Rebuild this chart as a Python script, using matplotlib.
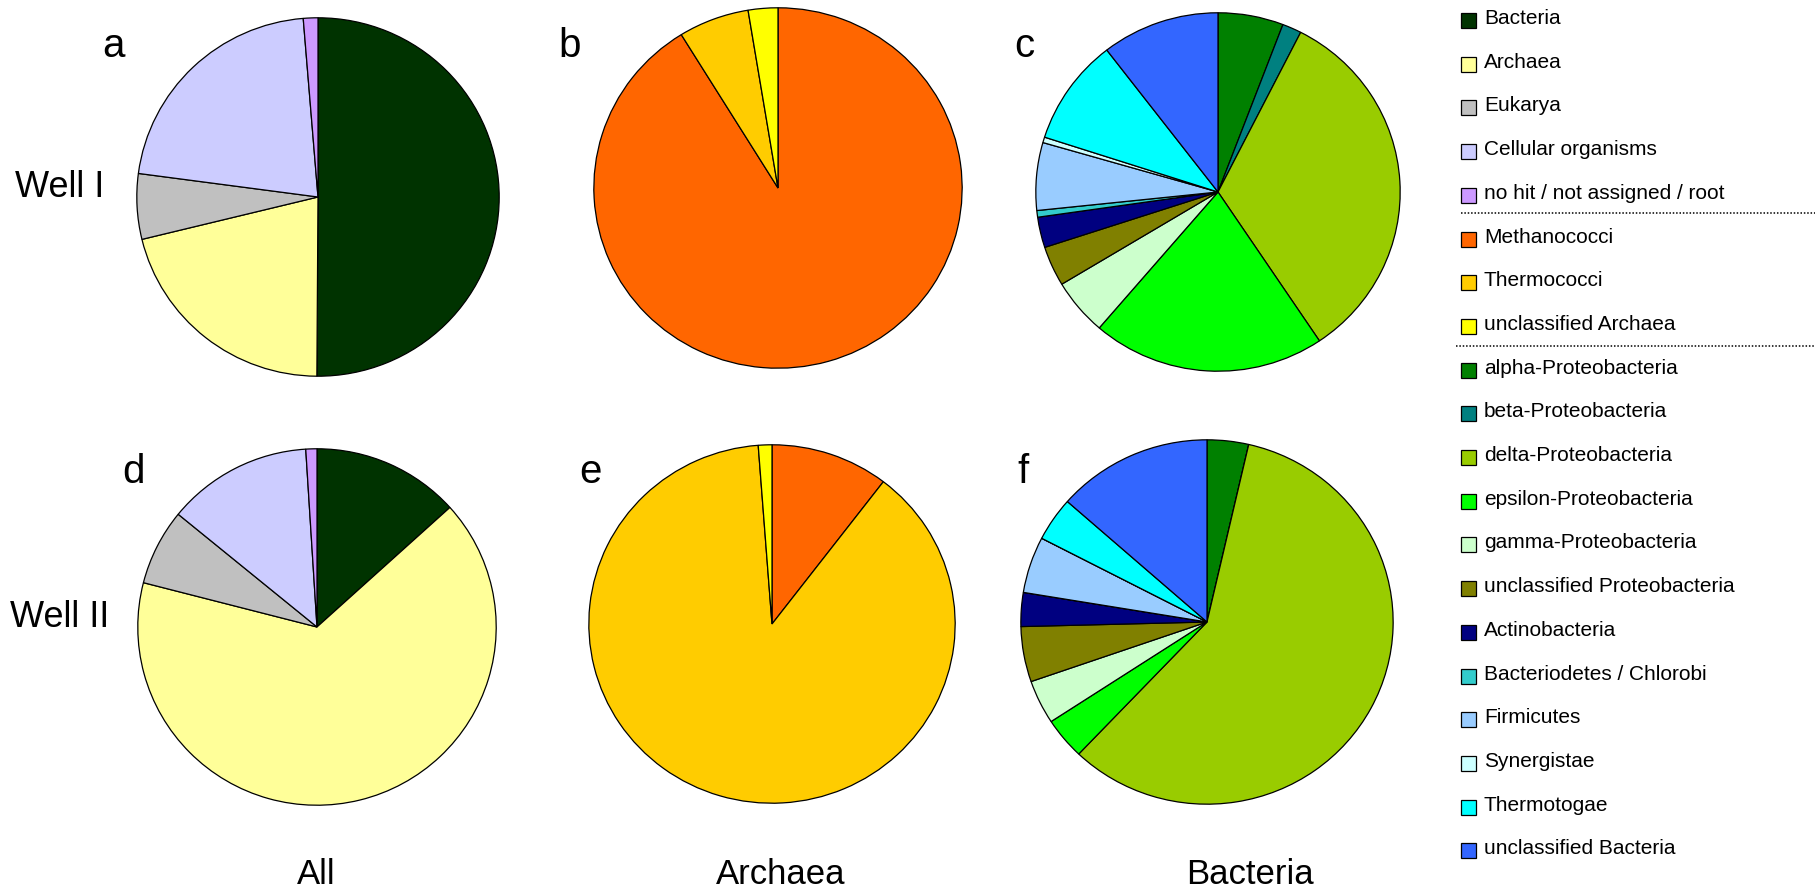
import matplotlib
matplotlib.use("Agg")
import matplotlib.pyplot as plt
from matplotlib.patches import Rectangle

plt.rcParams['font.family'] = ['Liberation Sans', 'DejaVu Sans']

# legend groups
domain_names = ["Bacteria", "Archaea", "Eukarya", "Cellular organisms", "no hit / not assigned / root"]
domain_colors = ["#003300", "#FFFF99", "#C0C0C0", "#CCCCFF", "#CC99FF"]

archaea_names = ["Methanococci", "Thermococci", "unclassified Archaea"]
archaea_colors = ["#FF6600", "#FFCC00", "#FFFF00"]

bacteria_names = ["alpha-Proteobacteria", "beta-Proteobacteria", "delta-Proteobacteria",
                  "epsilon-Proteobacteria", "gamma-Proteobacteria", "unclassified Proteobacteria",
                  "Actinobacteria", "Bacteriodetes / Chlorobi", "Firmicutes", "Synergistae",
                  "Thermotogae", "unclassified Bacteria"]
bacteria_colors = ["#008000", "#008080", "#99CC00", "#00FF00", "#CCFFCC", "#808000",
                   "#000080", "#33CCCC", "#99CCFF", "#CCFFFF", "#00FFFF", "#3366FF"]

# percentages
all_well1 = [50.1, 21.1, 5.9, 21.6, 1.3]
all_well2 = [13.3, 65.7, 6.9, 13.1, 1.0]
arch_well1 = [91.2, 6.2, 2.6]
arch_well2 = [10.4, 88.4, 1.2]
bact_well1 = [5.8, 1.7, 33.1, 20.7, 5.1, 3.6, 2.75, 0.6, 6.1, 0.5, 9.6, 10.45]
bact_well2 = [3.6, 0, 58.5, 3.7, 3.9, 4.9, 3.0, 0, 5.0, 0, 3.9, 13.5]

W, H = 1817, 888
fig = plt.figure(figsize=(W / 100, H / 100), dpi=100)


def pie_axes(cx, cy, rx, ry):
    return fig.add_axes([(cx - rx) / W, 1 - (cy + ry) / H, 2 * rx / W, 2 * ry / H])


panels = [
    (all_well1, domain_colors, (318, 197, 183, 181)),
    (arch_well1, archaea_colors, (778, 188, 186, 182)),
    (bact_well1, bacteria_colors, (1218, 192, 184, 181)),
    (all_well2, domain_colors, (317, 627, 181, 180)),
    (arch_well2, archaea_colors, (772, 624, 185, 181)),
    (bact_well2, bacteria_colors, (1207, 622, 188, 184)),
]

for vals, cols, box in panels:
    ax = pie_axes(*box)
    ax.pie(vals, colors=cols, startangle=90, counterclock=False,
           wedgeprops=dict(edgecolor="black", linewidth=0.9))
    ax.set_aspect("auto")
    ax.set_xlim(-1.01, 1.01)
    ax.set_ylim(-1.01, 1.01)
    ax.axis("off")

# overlay in pixel coordinates for labels and legend
ov = fig.add_axes([0, 0, 1, 1], zorder=10)
ov.set_xlim(0, W)
ov.set_ylim(H, 0)
ov.axis("off")
ov.patch.set_alpha(0)

for letter, x, y in [("a", 114, 57), ("b", 570, 57), ("c", 1024, 57),
                     ("d", 134, 483), ("e", 590, 483), ("f", 1023, 483)]:
    ov.text(x, y, letter, fontsize=29, ha="center", va="baseline")

ov.text(15, 197, "Well I", fontsize=26, ha="left", va="baseline")
ov.text(10, 627, "Well II", fontsize=26, ha="left", va="baseline")

for lab, x in [("All", 316), ("Archaea", 781), ("Bacteria", 1250)]:
    ov.text(x, 884, lab, fontsize=25, ha="center", va="baseline")

names = domain_names + archaea_names + bacteria_names
colors = domain_colors + archaea_colors + bacteria_colors
for i, (nm, col) in enumerate(zip(names, colors)):
    base = 24 + i * 43.7
    ov.add_patch(Rectangle((1461, base - 11), 15, 15, facecolor=col,
                           edgecolor="black", linewidth=0.9))
    ov.text(1484, base, nm, fontsize=15, ha="left", va="baseline")

ov.plot([1461, 1815], [213, 213], color="black", linestyle=(0, (1, 1.2)), linewidth=1.1)
ov.plot([1456, 1815], [346, 346], color="black", linestyle=(0, (1, 1.2)), linewidth=1.1)

fig.savefig("out.png", dpi=100)
